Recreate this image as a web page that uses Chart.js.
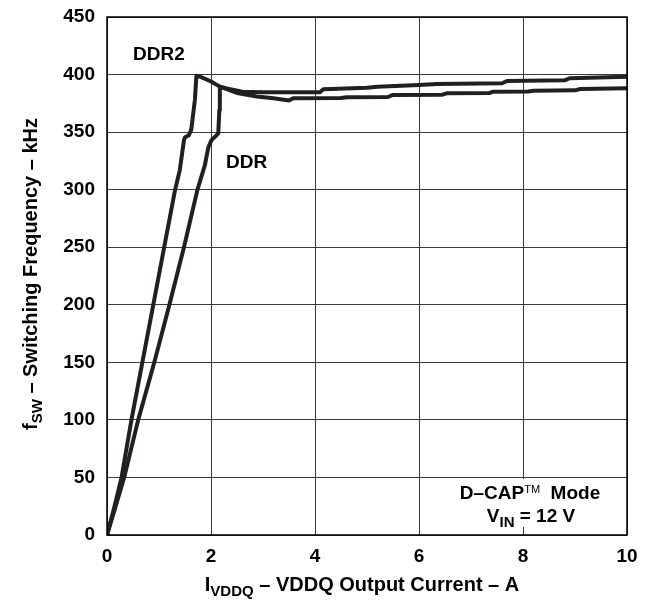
<!DOCTYPE html>
<html>
<head>
<meta charset="utf-8">
<script src="https://cdn.jsdelivr.net/npm/chart.js@4.4.1/dist/chart.umd.min.js"></script>
<style>
  body { margin: 0; background: #fff; }
  #wrap { width: 649px; height: 605px; }
</style>
</head>
<body>
<div id="wrap"><canvas id="chart-fsw" width="649" height="605"></canvas></div>
<script>
// Dữ liệu (x: dòng A, y: tần số kHz)
const ddr2X = [0, 0.14, 0.28, 0.47, 0.68, 0.89, 1.10, 1.31, 1.40, 1.48, 1.50, 1.57, 1.62, 1.69, 1.72, 1.80, 2.00, 2.17, 2.50, 2.88, 3.20, 3.50, 3.58, 4.50, 4.61, 5.40, 5.50, 6.45, 6.53, 7.35, 7.43, 8.10, 8.20, 9.00, 9.10, 10];
const ddr2Y = [0, 24, 50, 100, 150, 200, 250, 300, 317, 343, 345.5, 347, 352, 378, 399, 398, 394, 389.5, 384, 381, 379.5, 377.5, 379.4, 379.6, 380.2, 380.5, 382.3, 382.5, 383.7, 384, 385.1, 385.3, 386, 386.3, 387.4, 388];

const ddrX = [0, 0.16, 0.33, 0.60, 0.91, 1.20, 1.48, 1.74, 1.88, 1.95, 2.01, 2.10, 2.14, 2.16, 2.17, 2.30, 2.60, 3.00, 4.10, 4.16, 5.00, 5.20, 6.00, 6.34, 7.60, 7.69, 8.80, 8.90, 10];
const ddrY = [0, 24, 50, 100, 150, 200, 250, 300, 321, 337, 343, 347, 349, 369, 389.5, 388, 385, 384.6, 384.7, 387.3, 388.5, 389.5, 391, 391.8, 392.5, 394.4, 395, 396.8, 398.2];

const xTicks = [0, 2, 4, 6, 8, 10];
const yTicks = [0, 50, 100, 150, 200, 250, 300, 350, 400, 450];

const FONT = '"Liberation Sans", Arial, Helvetica, sans-serif';
const INK = '#231f20';

function toPoints(xs, ys) {
    return xs.map((x, i) => ({ x: x, y: ys[i] }));
}

// Vẽ chữ có chỉ số dưới / trên, canh giữa tại (cx, baseline)
function drawRichText(ctx, parts, cx, baseline, size) {
    const fontOf = p => (p.light ? '' : 'bold ') + Math.round(size * (p.scale || 1)) + 'px ' + FONT;
    let total = 0;
    parts.forEach(p => { ctx.font = fontOf(p); total += ctx.measureText(p.t).width; });
    let x = cx - total / 2;
    ctx.textAlign = 'left';
    ctx.textBaseline = 'alphabetic';
    parts.forEach(p => {
        ctx.font = fontOf(p);
        ctx.fillText(p.t, x, baseline + (p.dy || 0));
        x += ctx.measureText(p.t).width;
    });
}

// Plugin vẽ tiêu đề trục, khung và chú thích
const extrasPlugin = {
    id: 'extras',
    afterDraw(chart) {
        const ctx = chart.ctx;
        const a = chart.chartArea;
        const sx = chart.scales.x, sy = chart.scales.y;
        ctx.save();
        ctx.fillStyle = '#000';

        // khung
        ctx.strokeStyle = '#000';
        ctx.lineWidth = 1.5;
        ctx.strokeRect(a.left, a.top, a.right - a.left, a.bottom - a.top);

        // tiêu đề trục x
        drawRichText(ctx, [
            { t: 'I' },
            { t: 'VDDQ', scale: 0.75, dy: 5 },
            { t: ' \u2013 VDDQ Output Current \u2013 A' }
        ], 362, 591, 20);

        // tiêu đề trục y
        ctx.save();
        ctx.translate(37, 274);
        ctx.rotate(-Math.PI / 2);
        drawRichText(ctx, [
            { t: 'f' },
            { t: 'SW', scale: 0.75, dy: 5 },
            { t: ' \u2013 Switching Frequency \u2013 kHz' }
        ], 0, 0, 19.5);
        ctx.restore();

        // nhãn đường cong
        ctx.font = 'bold 19px ' + FONT;
        ctx.textAlign = 'left';
        ctx.textBaseline = 'alphabetic';
        ctx.fillText('DDR2', sx.getPixelForValue(0.5), sy.getPixelForValue(413));
        ctx.fillText('DDR', sx.getPixelForValue(2.29), sy.getPixelForValue(319));

        // hộp chú thích chế độ
        ctx.fillStyle = '#fff';
        ctx.fillRect(448, 479, 165, 48);
        ctx.fillStyle = '#000';
        drawRichText(ctx, [
            { t: 'D\u2013CAP' },
            { t: 'TM', scale: 0.6, dy: -6, light: true },
            { t: '  Mode' }
        ], 530, 499, 19);
        drawRichText(ctx, [
            { t: 'V' },
            { t: 'IN', scale: 0.8, dy: 5 },
            { t: ' = 12 V' }
        ], 531, 522, 19);
        ctx.restore();
    }
};

function renderFswChart() {
    const ctx = document.getElementById('chart-fsw');
    const lineStyle = { borderColor: INK, borderWidth: 4, pointRadius: 0, fill: false, tension: 0, borderJoinStyle: 'round', borderCapStyle: 'round' };

    window.fswChart = new Chart(ctx, {
        type: 'line',
        data: {
            datasets: [
                Object.assign({ label: 'DDR2', data: toPoints(ddr2X, ddr2Y) }, lineStyle),
                Object.assign({ label: 'DDR', data: toPoints(ddrX, ddrY) }, lineStyle)
            ]
        },
        options: {
            responsive: false,
            animation: false,
            devicePixelRatio: 1,
            layout: { padding: { top: 17, right: 22, left: 0, bottom: 0 } },
            plugins: { legend: { display: false }, tooltip: { enabled: false } },
            scales: {
                x: {
                    type: 'linear', min: 0, max: 10,
                    afterBuildTicks: s => { s.ticks = xTicks.map(v => ({ value: v })); },
                    afterFit: s => { s.height = 70; s.paddingLeft = 0; s.paddingRight = 0; },
                    grid: { color: '#3a3a3a', lineWidth: 1, drawTicks: false },
                    border: { display: false },
                    ticks: { color: '#000', padding: 10, font: { family: FONT, size: 19, weight: 'bold' } }
                },
                y: {
                    type: 'linear', min: 0, max: 450,
                    afterBuildTicks: s => { s.ticks = yTicks.map(v => ({ value: v })); },
                    afterFit: s => { s.width = 107; s.paddingTop = 0; s.paddingBottom = 0; },
                    grid: { color: '#3a3a3a', lineWidth: 1, drawTicks: false },
                    border: { display: false },
                    ticks: { color: '#000', padding: 12, font: { family: FONT, size: 19, weight: 'bold' } }
                }
            }
        },
        plugins: [extrasPlugin]
    });
}

renderFswChart();
</script>
</body>
</html>
